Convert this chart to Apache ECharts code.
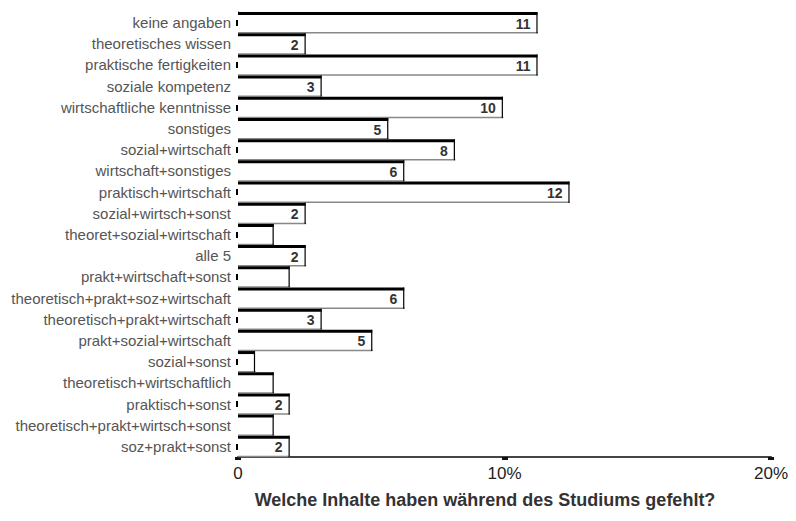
<!DOCTYPE html>
<html>
<head>
<meta charset="utf-8">
<script src="https://cdn.jsdelivr.net/npm/echarts@6/dist/echarts.min.js"></script>
<style>html,body{margin:0;padding:0;background:#fff}#c{width:796px;height:521px}</style>
</head>
<body>
<div id="c"></div>
<script>
const categories = [
  "keine angaben", "theoretisches wissen", "praktische fertigkeiten", "soziale kompetenz",
  "wirtschaftliche kenntnisse", "sonstiges", "sozial+wirtschaft", "wirtschaft+sonstiges",
  "praktisch+wirtschaft", "sozial+wirtsch+sonst", "theoret+sozial+wirtschaft", "alle 5",
  "prakt+wirtschaft+sonst", "theoretisch+prakt+soz+wirtschaft", "theoretisch+prakt+wirtschaft",
  "prakt+sozial+wirtschaft", "sozial+sonst", "theoretisch+wirtschaftlich", "praktisch+sonst",
  "theoretisch+prakt+wirtsch+sonst", "soz+prakt+sonst"
];
const percentValues = [11.2, 2.5, 11.2, 3.1, 9.9, 5.6, 8.1, 6.2, 12.4, 2.5, 1.3, 2.5, 1.9, 6.2, 3.1, 5.0, 0.6, 1.3, 1.9, 1.3, 1.9];
const barLabels = ["11", "2", "11", "3", "10", "5", "8", "6", "12", "2", "", "2", "", "6", "3", "5", "", "", "2", "", "2"];
const xTickLabels = {0: "0", 10: "10%", 20: "20%"};
const chartTitle = "Welche Inhalte haben während des Studiums gefehlt?";

const chart = echarts.init(document.getElementById('c'), null, {renderer: 'svg'});
const data = percentValues.map((v, i) => [v, i]);

chart.setOption({
  animation: false,
  backgroundColor: '#fff',
  title: {
    text: chartTitle,
    left: 480, top: 486, textAlign: 'center',
    textStyle: {fontFamily: 'Liberation Sans', fontSize: 18, fontWeight: 'bold', color: '#333'}
  },
  grid: {left: 238, right: 25, top: 12, bottom: 64, containLabel: false},
  xAxis: {
    type: 'value', min: 0, max: 20, interval: 10,
    splitLine: {show: false},
    axisLine: {show: true, onZero: false, lineStyle: {color: '#444', width: 2}},
    axisTick: {show: true, length: 3, lineStyle: {color: '#111', width: 6}},
    axisLabel: {
      margin: 8, fontFamily: 'Liberation Sans', fontSize: 17, color: '#222',
      formatter: v => xTickLabels[v] !== undefined ? xTickLabels[v] : ''
    }
  },
  yAxis: {
    type: 'category', data: categories, inverse: true,
    axisLine: {show: true, lineStyle: {color: '#000', width: 1}},
    axisTick: {show: true, interval: 1, alignWithLabel: true, length: 2, lineStyle: {color: '#000', width: 6}},
    axisLabel: {interval: 0, margin: 7, fontFamily: 'Liberation Sans', fontSize: 15, color: '#555'}
  },
  series: [{
    type: 'custom',
    encode: {x: 0, y: 1},
    data: data,
    renderItem: function (params, api) {
      const v = api.value(0), idx = api.value(1);
      const s = api.coord([0, idx]);
      const e = api.coord([v, idx]);
      const h = api.size([0, 1])[1];
      const x0 = s[0], x1 = e[0], top = e[1] - h / 2, bot = e[1] + h / 2;
      const lbl = barLabels[idx];
      const children = [
        {type: 'rect', shape: {x: x0, y: top, width: x1 - x0, height: h}, style: {fill: '#fff'}},
        {type: 'line', shape: {x1: x0, y1: bot - 0.5, x2: x1 + 1.5, y2: bot - 0.5}, style: {stroke: '#888', lineWidth: 1.5}},
        {type: 'line', shape: {x1: x1 + 0.5, y1: top, x2: x1 + 0.5, y2: bot}, style: {stroke: '#000', lineWidth: 1.2}},
        {type: 'line', shape: {x1: x0, y1: top + 1.5, x2: x1 + 1, y2: top + 1.5}, style: {stroke: '#000', lineWidth: 3}}
      ];
      if (lbl) {
        children.push({type: 'text', style: {
          text: lbl, x: x1 - 6, y: e[1] + 1, align: 'right', verticalAlign: 'middle',
          fill: '#333', font: 'bold 14px "Liberation Sans"'
        }});
      }
      return {type: 'group', children: children};
    }
  }]
});
</script>
</body>
</html>
